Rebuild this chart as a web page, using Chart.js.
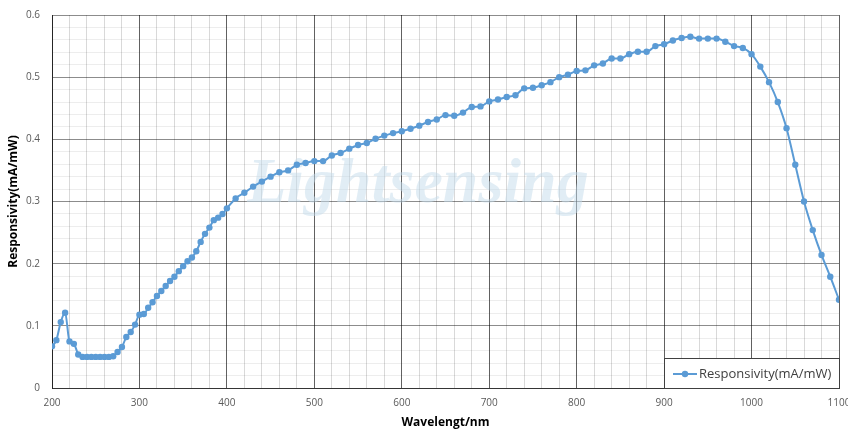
<!DOCTYPE html>
<html>
<head>
<meta charset="utf-8">
<script src="https://cdn.jsdelivr.net/npm/chart.js@4.4.1/dist/chart.umd.min.js"></script>
<style>
  html, body { margin:0; padding:0; background:#fff; }
  #wrap { width:848px; height:430px; position:relative; }
</style>
</head>
<body>
<div id="wrap"><canvas id="c"></canvas></div>
<script>
// 波长 (nm) 与响应度 (mA/mW)
const wavelengths = [
  200,205,210,215,220,225,230,235,240,245,250,255,260,265,270,275,280,285,290,295,
  300,305,310,315,320,325,330,335,340,345,350,355,360,365,370,375,380,385,390,395,400,
  410,420,430,440,450,460,470,480,490,500,510,520,530,540,550,560,570,580,590,600,
  610,620,630,640,650,660,670,680,690,700,710,720,730,740,750,760,770,780,790,800,
  810,820,830,840,850,860,870,880,890,900,910,920,930,940,950,960,970,980,990,1000,
  1010,1020,1030,1040,1050,1060,1070,1080,1090,1100
];
const responsivity = [
  0.067,0.077,0.106,0.121,0.075,0.071,0.054,0.050,0.050,0.050,0.050,0.050,0.050,0.050,0.051,0.058,0.066,0.082,0.090,0.102,
  0.118,0.119,0.129,0.138,0.148,0.156,0.164,0.172,0.179,0.188,0.196,0.204,0.210,0.220,0.235,0.248,0.258,0.270,0.274,0.280,0.289,
  0.305,0.314,0.324,0.332,0.340,0.347,0.350,0.359,0.362,0.365,0.365,0.374,0.378,0.385,0.391,0.394,0.401,0.406,0.410,0.413,
  0.417,0.422,0.428,0.432,0.439,0.438,0.443,0.452,0.453,0.461,0.464,0.468,0.471,0.482,0.483,0.487,0.492,0.500,0.504,0.510,
  0.511,0.519,0.522,0.530,0.530,0.537,0.541,0.541,0.550,0.553,0.559,0.563,0.565,0.562,0.562,0.562,0.557,0.550,0.547,0.537,
  0.517,0.492,0.460,0.418,0.359,0.300,0.254,0.214,0.179,0.142
];
const seriesLabel = 'Responsivity(mA/mW)';
const xTitle = 'Wavelengt/nm';
const yTitle = 'Responsivity(mA/mW)';
const watermark = 'Lightsensing';

const lineColor = '#5b9bd5';

// 水印 + 图内图例（右下角）
const overlay = {
  id: 'overlay',
  beforeDatasetsDraw(chart){
    const { ctx, chartArea:a } = chart;
    ctx.save();
    ctx.font = 'italic bold 64px "Liberation Serif", serif';
    ctx.fillStyle = 'rgba(195,220,236,0.5)';
    ctx.textAlign = 'center';
    ctx.textBaseline = 'alphabetic';
    ctx.fillText(watermark, a.left + (a.right - a.left) * 0.465, 202);
    ctx.restore();
  },
  afterDraw(chart){
    const { ctx, chartArea:a } = chart;
    const w = 175, h = 30;
    const x0 = a.right - w, y0 = a.bottom - h;
    ctx.save();
    ctx.fillStyle = '#fff';
    ctx.fillRect(x0, y0, w, h);
    ctx.strokeStyle = '#404040';
    ctx.lineWidth = 1;
    ctx.strokeRect(x0 + 0.5, y0 + 0.5, w, h);
    const cy = y0 + h / 2 + 1;
    ctx.strokeStyle = lineColor;
    ctx.lineWidth = 2;
    ctx.beginPath(); ctx.moveTo(x0 + 9, cy); ctx.lineTo(x0 + 33, cy); ctx.stroke();
    ctx.fillStyle = lineColor;
    ctx.beginPath(); ctx.arc(x0 + 21, cy, 3.2, 0, Math.PI * 2); ctx.fill();
    ctx.fillStyle = '#404040';
    ctx.font = '13px "Open Sans", sans-serif';
    ctx.textAlign = 'left';
    ctx.textBaseline = 'middle';
    ctx.fillText(seriesLabel, x0 + 35, cy);
    ctx.restore();
  }
};

const isMajorX = c => c.tick && c.tick.value % 100 === 0;
const isMajorY = c => c.tick && Math.round(c.tick.value * 100) % 10 === 0;

new Chart(document.getElementById('c'), {
  type: 'line',
  data: {
    datasets: [{
      label: seriesLabel,
      data: wavelengths.map((w, i) => ({ x: w, y: responsivity[i] })),
      borderColor: lineColor,
      backgroundColor: lineColor,
      borderWidth: 2,
      pointRadius: 3.2,
      pointHoverRadius: 3.2,
      pointBorderWidth: 0,
      tension: 0.3,
      cubicInterpolationMode: 'monotone'
    }]
  },
  options: {
    responsive: true,
    maintainAspectRatio: false,
    animation: false,
    layout: { padding: { top: 15, right: 9, left: 0, bottom: 0 } },
    plugins: { legend: { display: false }, tooltip: { enabled: false } },
    scales: {
      x: {
        type: 'linear', min: 200, max: 1100,
        ticks: {
          stepSize: 20, autoSkip: false, maxRotation: 0, padding: 9,
          color: '#595959', font: { family: '"Open Sans", sans-serif', size: 10 },
          callback: v => (v % 100 === 0 ? String(v) : '')
        },
        grid: {
          drawTicks: false,
          color: c => (isMajorX(c) ? 'rgba(0,0,0,0.62)' : 'rgba(0,0,0,0.15)')
        },
        border: { display: true, color: 'rgba(0,0,0,0.62)' },
        title: {
          display: true, text: xTitle, color: '#000',
          font: { family: '"Open Sans", sans-serif', size: 12, weight: 'bold' },
          padding: { top: 0, bottom: 0 }
        },
        afterFit: s => { s.height = 42; s.paddingLeft = 0; s.paddingRight = 0; }
      },
      y: {
        min: 0, max: 0.6,
        ticks: {
          stepSize: 0.02, autoSkip: false, padding: 12,
          color: '#595959', font: { family: '"Open Sans", sans-serif', size: 10 },
          callback: v => {
            const k = Math.round(v * 100);
            return k % 10 === 0 ? String(k / 100) : '';
          }
        },
        grid: {
          drawTicks: false,
          color: c => (isMajorY(c) ? 'rgba(0,0,0,0.45)' : 'rgba(0,0,0,0.07)')
        },
        border: { display: true, color: 'rgba(0,0,0,0.62)' },
        title: {
          display: true, text: yTitle, color: '#000',
          font: { family: '"Open Sans", sans-serif', size: 12, weight: 'bold' },
          padding: { top: 6, bottom: 0 }
        },
        afterFit: s => { s.width = 52; s.paddingTop = 0; s.paddingBottom = 0; }
      }
    }
  },
  plugins: [overlay]
});
</script>
</body>
</html>
